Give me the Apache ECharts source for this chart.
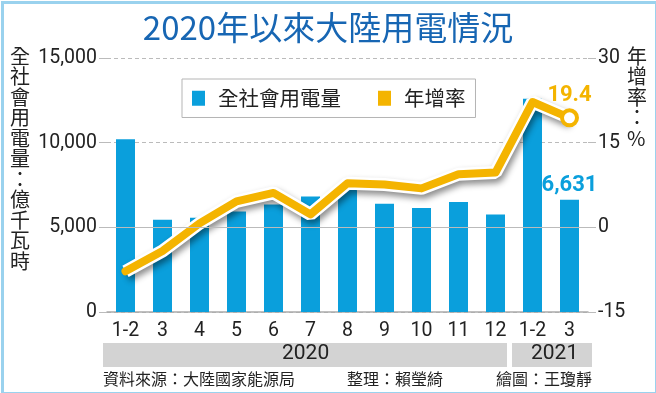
<!DOCTYPE html>
<html><head><meta charset="utf-8">
<script src="https://cdn.jsdelivr.net/npm/echarts@6/dist/echarts.min.js"></script>
<style>html,body{margin:0;padding:0;background:#fff}#c{width:656px;height:393px}</style>
</head><body><div id="c"></div>
<script>
const categories = ['1-2','3','4','5','6','7','8','9','10','11','12','1-2','3'];
const consumption = [10203,5448,5572,5934,6350,6824,7294,6400,6142,6498,5760,12588,6631];
const growth = [-7.8,-4.2,0.7,4.6,6.1,2.3,7.8,7.6,6.9,9.4,9.7,22.2,19.4];
const leftTicks = [0,5000,10000,15000];
const rightTicks = [-15,0,15,30];
const yearLabels = ['2020','2021'];

const BLUE = '#0a9fdc', YEL = '#f4b400';
const F = '"Liberation Sans Narrow","Roboto","Noto Sans CJK TC",sans-serif';
const CJK = '"Noto Sans CJK TC",sans-serif';
const last = categories.length - 1;

const chart = echarts.init(document.getElementById('c'));
chart.setOption({
  animation: false,
  grid: {left: 107, right: 68, top: 58, bottom: 81},
  title: {text: '2020年以來大陸用電情況', left: 'center', top: 6,
    textStyle: {fontFamily: CJK, fontSize: 33, fontWeight: 'normal', color: '#1766b3'}},
  legend: {
    left: 182, top: 79, width: 293, height: 38,
    backgroundColor: '#fff', borderColor: '#b5b5b5', borderWidth: 1,
    padding: [9, 10, 9, 10], itemGap: 37, itemWidth: 13, itemHeight: 15,
    icon: 'rect', data: ['全社會用電量','年增率'],
    textStyle: {fontFamily: CJK, fontSize: 20.5, color: '#222', padding: [0, 0, 0, 8]}
  },
  xAxis: {
    type: 'category', data: categories,
    axisLine: {lineStyle: {color: '#aaa', width: 1.5}},
    axisTick: {alignWithLabel: true, length: 6, lineStyle: {color: '#aaa'}},
    axisLabel: {fontFamily: F, fontSize: 19.5, color: '#222', margin: 9, interval: 0}
  },
  yAxis: [{
    type: 'value', min: 0, max: 15000, interval: 5000,
    axisLine: {show: false},
    axisTick: {show: true, length: 8, lineStyle: {color: '#bbb'}},
    axisLabel: {fontFamily: F, fontSize: 19.5, color: '#222', margin: 10,
      formatter: v => v.toLocaleString('en-US')},
    splitLine: {lineStyle: {color: '#bbb', type: [4, 3]}}
  }, {
    type: 'value', min: -15, max: 30, interval: 15,
    axisLine: {show: false},
    axisTick: {show: true, length: 8, lineStyle: {color: '#bbb'}},
    axisLabel: {fontFamily: F, fontSize: 19.5, color: '#222', margin: 10},
    splitLine: {show: false}
  }],
  series: [{
    name: '全社會用電量', type: 'bar', barWidth: 19, itemStyle: {color: BLUE},
    data: consumption.map((v, i) => i === last ? {value: v, label: {show: true, position: 'top',
      distance: 3, formatter: p => p.value.toLocaleString('en-US'), fontFamily: F, fontSize: 22,
      fontWeight: 'bold', color: BLUE}} : v),
    markLine: {silent: true, symbol: 'none', label: {show: false},
      lineStyle: {color: '#bbb', type: 'solid', width: 1}, data: [{yAxis: 5000}]},
    z: 2
  }, {
    name: 'outline', type: 'line', yAxisIndex: 1, data: growth, symbol: 'none',
    lineStyle: {color: '#fff', width: 13, shadowColor: 'rgba(0,0,0,0.45)', shadowBlur: 6, shadowOffsetX: 2, shadowOffsetY: 4},
    itemStyle: {color: '#fff'}, z: 3, silent: true
  }, {
    name: '年增率', type: 'line', yAxisIndex: 1, symbol: 'none', itemStyle: {color: YEL},
    lineStyle: {color: YEL, width: 8, cap: 'round', join: 'round'},
    data: growth.map((v, i) => i === last ? {value: v, symbol: 'circle', symbolSize: 15,
      itemStyle: {color: '#fff', borderColor: YEL, borderWidth: 4},
      label: {show: true, position: 'top', distance: 2, fontFamily: F, fontSize: 22, fontWeight: 'bold', color: YEL}} : v),
    z: 4
  }],
  graphic: [
    {type: 'rect', left: 0, top: 0, shape: {width: 654, height: 391}, style: {fill: 'none', stroke: '#9ad2ee', lineWidth: 3}, silent: true},
    {type: 'text', left: 10, top: 46, style: {text: '全\n社\n會\n用\n電\n量\n：\n億\n千\n瓦\n時', fontFamily: CJK, fontSize: 20, lineHeight: 20.5, fill: '#222', align: 'center'}},
    {type: 'text', left: 627, top: 46, style: {text: '年\n增\n率\n：\n%', fontFamily: CJK, fontSize: 20, lineHeight: 20.5, fill: '#222', align: 'center'}},
    {type: 'rect', left: 103, top: 343, shape: {width: 404, height: 24}, style: {fill: '#d3d3d3'}},
    {type: 'rect', left: 512, top: 343, shape: {width: 80, height: 24}, style: {fill: '#d3d3d3'}},
    {type: 'text', left: 282, top: 343, style: {text: yearLabels[0], fontFamily: F, fontSize: 21, fill: '#222'}},
    {type: 'text', left: 531, top: 343, style: {text: yearLabels[1], fontFamily: F, fontSize: 21, fill: '#222'}},
    {type: 'text', left: 103, top: 371, style: {text: '資料來源：大陸國家能源局', fontFamily: CJK, fontSize: 16, fill: '#222'}},
    {type: 'text', left: 347, top: 371, style: {text: '整理：賴瑩綺', fontFamily: CJK, fontSize: 16, fill: '#222'}},
    {type: 'text', left: 496, top: 371, style: {text: '繪圖：王瓊靜', fontFamily: CJK, fontSize: 16, fill: '#222'}}
  ]
});
</script></body></html>
